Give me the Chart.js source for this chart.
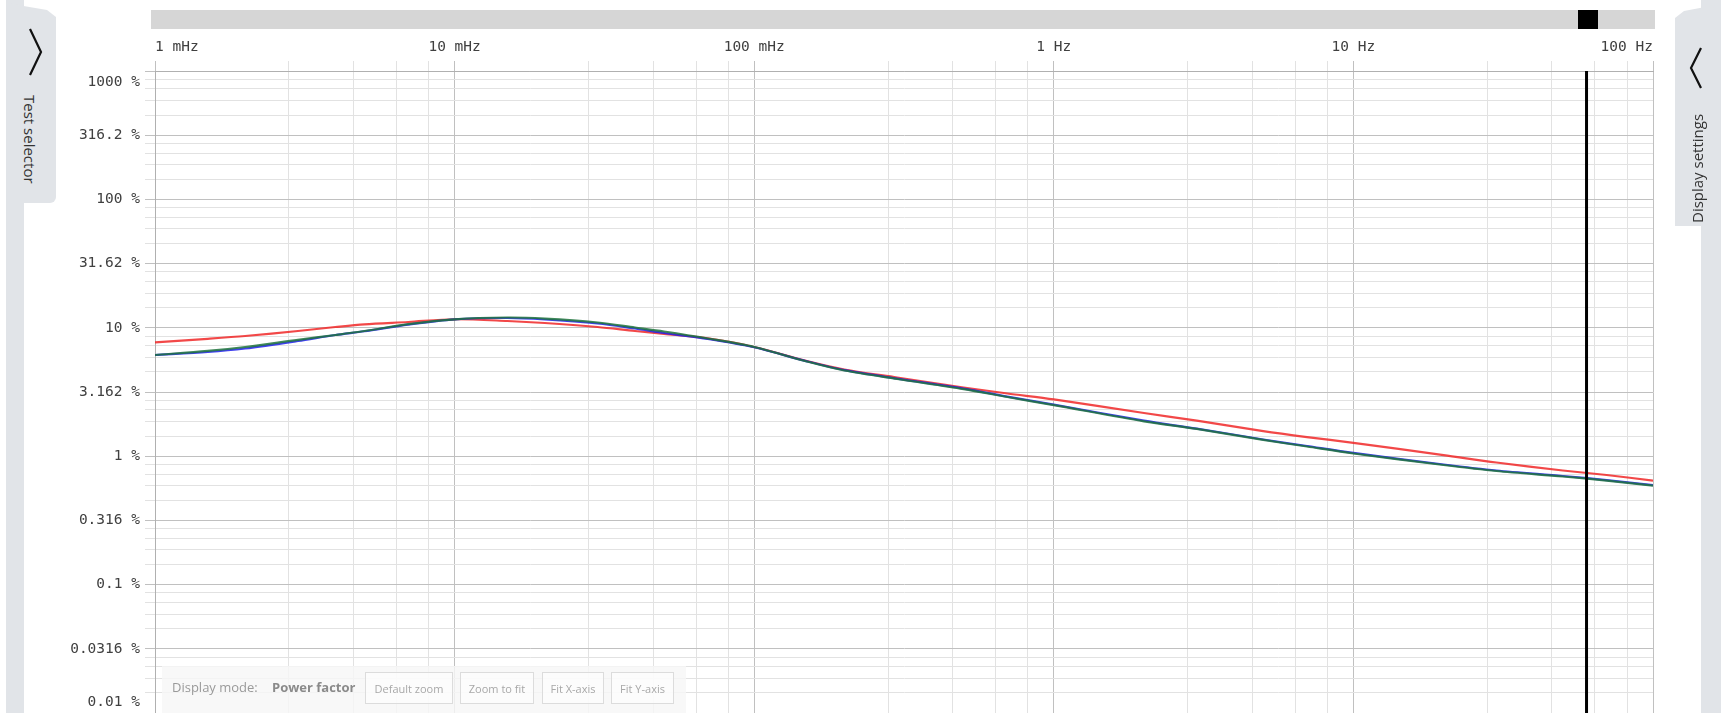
<!DOCTYPE html>
<html lang="en">
<head>
<meta charset="UTF-8">
<title>Power factor</title>
<script src="https://cdn.jsdelivr.net/npm/chart.js"></script>
<style>
  html, body { margin: 0; padding: 0; background: #fff; overflow: hidden; }
  body { position: relative; width: 1721px; height: 713px; font-family: "Open Sans", sans-serif; }
  #plot { position: absolute; left: 0; top: 0; width: 1721px; height: 713px; }
  #track { position: absolute; left: 151px; top: 10px; width: 1504px; height: 19px; background: #d6d6d6; }
  #thumb { position: absolute; left: 1427px; top: 0; width: 20px; height: 19px; background: #000; }
  .strip { position: absolute; top: 0; height: 713px; width: 18px; background: #e1e4e8; }
  .tab { position: absolute; background: #e1e4e8; }
  .tab span { position: absolute; font-size: 15px; color: #333; white-space: nowrap; }
  #leftTab { left: 6px; top: 3px; width: 50px; height: 200px; clip-path: polygon(0 0, 41px 7px, 50px 14px, 50px 100%, 0 100%); border-bottom-right-radius: 6px; }
  #leftTab span { left: 34px; top: 92px; transform-origin: 0 0; transform: rotate(90deg); }
  #rightTab { left: 1675px; top: 4px; width: 46px; height: 222px; clip-path: polygon(0 14px, 9px 7px, 46px 0, 46px 100%, 0 100%); }
  #rightTab span { left: 12px; top: 219px; transform-origin: 0 0; transform: rotate(-90deg); }
  .chev { position: absolute; }
  #toolbar { position: absolute; left: 162px; top: 666px; width: 524px; height: 47px; background: rgba(246,246,246,0.82); font-size: 13px; }
  #toolbar .lbl { position: absolute; top: 12px; color: #9a9a9a; }
  #toolbar .val { position: absolute; top: 12px; color: #8a8a8a; font-weight: 700; }
  #toolbar .btn { position: absolute; top: 6px; height: 32px; line-height: 32px; border: 1px solid #dcdcdc; background: rgba(255,255,255,0.5); color: #a8a8a8; font-size: 11px; text-align: center; box-sizing: border-box; }
</style>
</head>
<body>
<div id="plot"><canvas id="pfChart" width="1721" height="713"></canvas></div>
<div id="track"><div id="thumb"></div></div>

<div class="strip" style="left:6px"></div>
<div class="tab" id="leftTab">
  <svg class="chev" style="left:20px;top:24px" width="20" height="50"><polyline points="4,2 15,25 4,48" fill="none" stroke="#111" stroke-width="2.2"/></svg>
  <span>Test selector</span>
</div>

<div class="strip" style="left:1701px; width:20px"></div>
<div class="tab" id="rightTab">
  <svg class="chev" style="left:11px;top:42px" width="20" height="44"><polyline points="15,2 5,22 15,42" fill="none" stroke="#111" stroke-width="2.2"/></svg>
  <span>Display settings</span>
</div>

<div id="toolbar">
  <span class="lbl" style="left:10px">Display mode:</span>
  <span class="val" style="left:110px">Power factor</span>
  <div class="btn" style="left:203px;width:88px">Default zoom</div>
  <div class="btn" style="left:298px;width:74px">Zoom to fit</div>
  <div class="btn" style="left:380px;width:62px">Fit X-axis</div>
  <div class="btn" style="left:449px;width:63px">Fit Y-axis</div>
</div>

<script>
// frequencies (Hz) of the sweep
const freqHz = [0.001, 0.0015, 0.002, 0.003, 0.004, 0.005, 0.007, 0.01, 0.015, 0.02, 0.03, 0.04, 0.05, 0.07,
                0.1, 0.15, 0.2, 0.3, 0.5, 0.7, 1, 2, 3, 5, 7, 10, 20, 30, 50, 70, 100];
// power factor in %, one per phase
const redPct   = [7.71, 8.21, 8.63, 9.44, 10.14, 10.65, 11.10, 11.65, 11.30, 10.90, 10.14, 9.44, 8.98, 8.26,
                  7.09, 5.51, 4.73, 4.10, 3.43, 3.08, 2.77, 2.17, 1.89, 1.57, 1.41, 1.27, 1.02, 0.893, 0.774, 0.714, 0.645];
const bluePct  = [6.14, 6.48, 6.90, 7.89, 8.79, 9.40, 10.60, 11.65, 11.92, 11.61, 10.80, 9.87, 9.11, 8.18,
                  7.05, 5.48, 4.68, 4.02, 3.36, 2.91, 2.52, 1.89, 1.64, 1.35, 1.20, 1.06, 0.862, 0.774, 0.701, 0.652, 0.595];
const greenPct = [6.14, 6.60, 7.09, 8.06, 8.79, 9.44, 10.67, 11.65, 12.03, 11.80, 11.00, 10.05, 9.36, 8.26,
                  7.09, 5.46, 4.65, 3.99, 3.33, 2.89, 2.50, 1.87, 1.63, 1.34, 1.19, 1.05, 0.854, 0.767, 0.695, 0.646, 0.589];

// axis ticks
const xMajorHz = [0.001, 0.01, 0.1, 1, 10, 100];
const xMajorLabels = ['1 mHz', '10 mHz', '100 mHz', '1 Hz', '10 Hz', '100 Hz'];
const yMajorPct = [0.01, 0.03162, 0.1, 0.3162, 1, 3.162, 10, 31.62, 100, 316.2, 1000];
const yMajorLabels = ['0.01 %', '0.0316 %', '0.1 %', '0.316 %', '1 %', '3.162 %', '10 %', '31.62 %', '100 %', '316.2 %', '1000 %'];
const cursorHz = 60;

const monoFont = '"DejaVu Sans Mono", monospace';

// each interval between major lines gets 4 evenly spaced minor lines
function withMinors(majors) {
    const ticks = majors.map(v => ({ value: v, major: true }));
    for (let i = 0; i < majors.length - 1; i++) {
        const a = majors[i], b = majors[i + 1];
        for (let k = 1; k < 5; k++) ticks.push({ value: a + (b - a) * k / 5, major: false });
    }
    return ticks.sort((p, q) => p.value - q.value);
}

function pts(values) {
    return freqHz.map((f, i) => ({ x: f, y: values[i] }));
}

const gridColor = c => (c.tick && c.tick.major ? '#c0c0c0' : '#e2e2e2');

const overlay = {
    id: 'overlay',
    afterDatasetsDraw(chart) {
        const { ctx, chartArea, scales } = chart;
        const px = scales.x.getPixelForValue(cursorHz);
        ctx.save();
        ctx.strokeStyle = '#000';
        ctx.lineWidth = 3;
        ctx.beginPath();
        ctx.moveTo(px, chartArea.top);
        ctx.lineTo(px, chartArea.bottom);
        ctx.stroke();
        ctx.restore();
    },
    afterDraw(chart) {
        // y labels, first and last kept inside the plot like the x labels
        const { ctx, chartArea, scales } = chart;
        ctx.save();
        ctx.font = '14.5px ' + monoFont;
        ctx.fillStyle = '#404040';
        ctx.textAlign = 'right';
        ctx.textBaseline = 'middle';
        yMajorPct.forEach((v, i) => {
            let py = scales.y.getPixelForValue(v);
            py = Math.min(Math.max(py, chartArea.top + 11), chartArea.bottom - 11);
            ctx.fillText(yMajorLabels[i], scales.y.right - 15, py);
        });
        ctx.restore();
    }
};

new Chart(document.getElementById('pfChart'), {
    type: 'line',
    data: {
        datasets: [
            { label: 'L1', data: pts(redPct), borderColor: 'rgba(240,40,40,0.85)', order: 3 },
            { label: 'L2', data: pts(bluePct), borderColor: 'rgba(30,30,235,0.85)', order: 2 },
            { label: 'L3', data: pts(greenPct), borderColor: 'rgba(30,115,60,0.85)', order: 1 }
        ]
    },
    options: {
        responsive: false,
        animation: false,
        layout: { padding: { left: 0, right: 68, top: 0, bottom: 0 } },
        elements: {
            line: { borderWidth: 2.2, tension: 0.3, fill: false },
            point: { radius: 0 }
        },
        plugins: { legend: { display: false }, tooltip: { enabled: false } },
        scales: {
            x: {
                type: 'logarithmic',
                position: 'top',
                min: 0.001,
                max: 100,
                afterBuildTicks: s => { s.ticks = withMinors(xMajorHz); },
                afterFit: s => { s.height = 71; },
                border: { color: '#b0b0b0' },
                grid: { color: gridColor, tickColor: gridColor, tickLength: 10 },
                ticks: {
                    autoSkip: false,
                    maxRotation: 0,
                    align: 'inner',
                    padding: 5,
                    color: '#404040',
                    font: { family: monoFont, size: 14.5 },
                    callback: (v, i, t) => {
                        const j = xMajorHz.indexOf(t[i].value);
                        return j >= 0 ? xMajorLabels[j] : '';
                    }
                }
            },
            y: {
                type: 'logarithmic',
                min: 0.01,
                max: 1000,
                afterBuildTicks: s => { s.ticks = withMinors(yMajorPct); },
                afterFit: s => { s.width = 155; },
                border: { color: '#b0b0b0' },
                grid: { color: gridColor, tickColor: gridColor, tickLength: 10 },
                ticks: { display: false, autoSkip: false }
            }
        }
    },
    plugins: [overlay]
});
</script>
</body>
</html>
